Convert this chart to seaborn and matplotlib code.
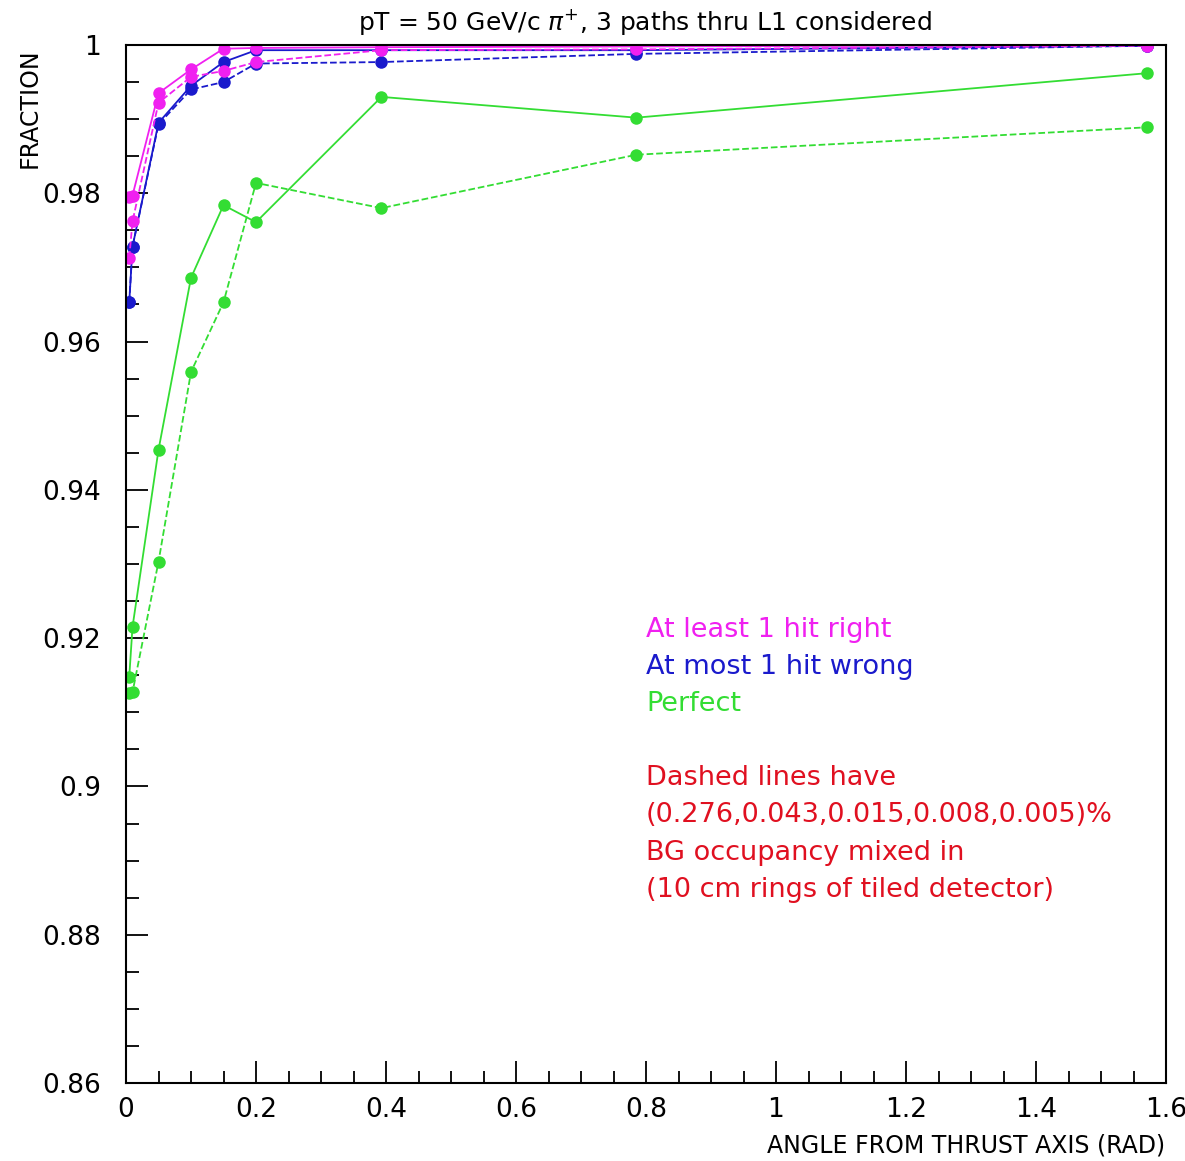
import matplotlib
matplotlib.use("Agg")
import matplotlib.pyplot as plt
import seaborn as sns
import numpy as np
import pandas as pd

# ---- data ----
angle = [0.005, 0.01, 0.05, 0.1, 0.15, 0.2, 0.393, 0.785, 1.571]

least1_right = [0.9795, 0.9797, 0.9935, 0.9967, 0.9995, 0.9996, 0.9997, 0.9998, 1.0000]
least1_right_bg = [0.9713, 0.9762, 0.9922, 0.9957, 0.9965, 0.9977, 0.9993, 0.9994, 0.9999]
most1_wrong = [0.9653, 0.9728, 0.9895, 0.9945, 0.9977, 0.9993, 0.9993, 0.9993, 0.9999]
most1_wrong_bg = [0.9653, 0.9728, 0.9893, 0.9940, 0.9950, 0.9975, 0.9977, 0.9988, 0.9999]
perfect = [0.9148, 0.9215, 0.9454, 0.9686, 0.9784, 0.9761, 0.9930, 0.9902, 0.9962]
perfect_bg = [0.9126, 0.9127, 0.9303, 0.9559, 0.9653, 0.9814, 0.9780, 0.9852, 0.9889]

x_ticks = [0, 0.2, 0.4, 0.6, 0.8, 1.0, 1.2, 1.4, 1.6]
x_ticklabels = ["0", "0.2", "0.4", "0.6", "0.8", "1", "1.2", "1.4", "1.6"]
y_ticks = [0.86, 0.88, 0.90, 0.92, 0.94, 0.96, 0.98, 1.0]
y_ticklabels = ["0.86", "0.88", "0.9", "0.92", "0.94", "0.96", "0.98", "1"]

title = r"pT = 50 GeV/c $\pi^{+}$, 3 paths thru L1 considered"
xlabel = "ANGLE FROM THRUST AXIS (RAD)"
ylabel = "FRACTION"
labels = ["At least 1 hit right", "At most 1 hit wrong", "Perfect"]
note = ["Dashed lines have", "(0.276,0.043,0.015,0.008,0.005)%",
        "BG occupancy mixed in", "(10 cm rings of tiled detector)"]

MAGENTA = "#f020f0"
BLUE = "#1a1acc"
GREEN = "#33dd33"
RED = "#e01020"

sns.set_style("ticks")
plt.rcParams["font.family"] = ["DejaVu Sans"]
plt.rcParams["text.color"] = "black"
plt.rcParams["xtick.color"] = "black"
plt.rcParams["ytick.color"] = "black"

fig = plt.figure(figsize=(11.85, 11.61), dpi=100)
ax = fig.add_axes([126 / 1185, 1 - 1083 / 1161, (1166 - 126) / 1185, (1083 - 45) / 1161])

series = [
    (perfect_bg, GREEN, "--"),
    (perfect, GREEN, "-"),
    (most1_wrong_bg, BLUE, "--"),
    (most1_wrong, BLUE, "-"),
    (least1_right_bg, MAGENTA, "--"),
    (least1_right, MAGENTA, "-"),
]
for vals, col, ls in series:
    df = pd.DataFrame({"x": angle, "y": vals})
    sns.lineplot(data=df, x="x", y="y", ax=ax, color=col, linestyle=ls,
                 linewidth=1.3, marker="o", markersize=9, markeredgewidth=0,
                 sort=False, estimator=None, legend=False)

ax.set_xlim(0, 1.6)
ax.set_ylim(0.86, 1.0)
ax.set_xticks(x_ticks, x_ticklabels)
ax.set_yticks(y_ticks, y_ticklabels)
ax.set_xticks(np.arange(0, 1.6001, 0.05), minor=True)
ax.set_yticks(np.arange(0.86, 1.0001, 0.005), minor=True)
ax.tick_params(axis="both", which="both", direction="in", top=False, right=False,
               bottom=True, left=True, color="black", width=1.3)
ax.tick_params(axis="both", which="major", length=16, labelsize=19, labelcolor="black")
ax.tick_params(axis="x", which="major", pad=10)
ax.tick_params(axis="y", which="major", pad=18)
ax.tick_params(axis="both", which="minor", length=9)
for s in ax.spines.values():
    s.set_color("black")
    s.set_linewidth(1.5)
    s.set_visible(True)

ax.set_xlabel("")
ax.set_ylabel("")
fig.text(1165 / 1185, 1 - 1146 / 1161, xlabel, ha="right", va="center", fontsize=17)
fig.text(30 / 1185, 1 - 48 / 1161, ylabel, ha="center", va="top", rotation=90, fontsize=17)
fig.text(645 / 1185, 1 - 22 / 1161, title, ha="center", va="center", fontsize=18)

tx = (646 - 126) / 650
ys = [630, 667, 704]
for lab, col, py in zip(labels, [MAGENTA, BLUE, GREEN], ys):
    ax.text(tx, 1 - (py - 45) / 7414, lab, color=col, fontsize=19.5, va="center", ha="left")
for i, line in enumerate(note):
    py = 778 + i * 37.3
    ax.text(tx, 1 - (py - 45) / 7414, line, color=RED, fontsize=19.5, va="center", ha="left")

fig.savefig("out.png", dpi=100, facecolor="white")
